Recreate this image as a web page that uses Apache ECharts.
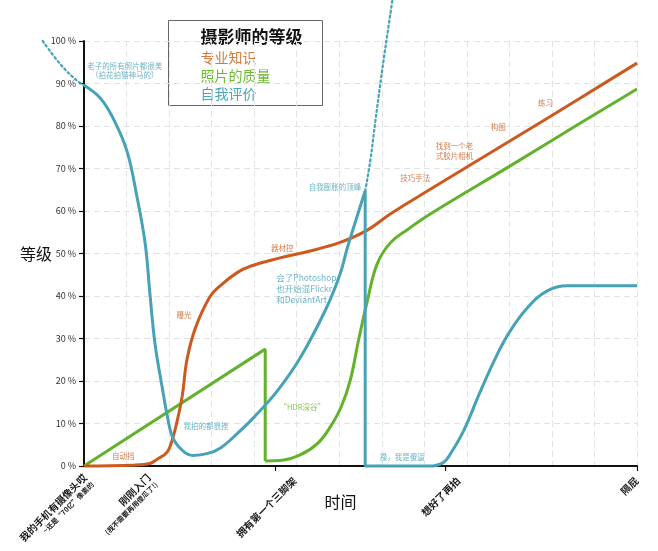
<!DOCTYPE html>
<html><head><meta charset="utf-8">
<script src="https://cdn.jsdelivr.net/npm/echarts@6/dist/echarts.min.js"></script>
<style>html,body{margin:0;padding:0;background:#fff}#c{width:658px;height:551px}</style>
</head><body><div id="c"></div>
<script>
const FONT = '"Noto Sans CJK SC","Noto Sans",sans-serif';
const C_SKILL = '#cc5a1e', C_QUAL = '#62b22b', C_SELF = '#45a2b7';

// x axis labels (time stages) and where they sit on the 0..13 time scale
const xLabels = [
  ['我的手机有摄像头哎', '~还是“70亿”像素的'],
  ['刚刚入门', '(我不需要再用傻瓜了!)'],
  ['拥有第一个三脚架', ''],
  ['想好了再拍', ''],
  ['隔屁', '']
];
const xLabelPos = [0.1, 1.6, 4.95, 8.8, 12.99];
const xTickPos = [4.5, 8.5, 13];
const yTicks = [0, 10, 20, 30, 40, 50, 60, 70, 80, 90, 100];

// 专业知识
const skill = [[0,0],[1.15,0.2],[1.55,0.6],[1.72,1.6],[1.95,3.2],[2.07,6],[2.19,10.6],[2.31,16.5],[2.42,25],[2.62,32.5],[2.96,39.8],[3.2,42.4],[3.6,45.5],[3.91,47],[4.54,48.8],[5.32,50.6],[6.02,52.6],[6.66,55.5],[7.2,59.3],[8.14,65.1],[10,76.4],[11.67,86.6],[13,94.8]];
// 照片的质量
const qualityA = [[0,0],[4.26,27.5],[4.26,1.2]];
const qualityB = [[4.26,1.2],[4.61,1.3],[5.08,2.6],[5.5,5.4],[5.79,9.2],[6.05,14],[6.26,20.2],[6.45,29.4],[6.66,38.8],[6.89,47.5],[7.2,52.5],[7.6,55.6],[8.14,59.3],[10,70.5],[11.67,80.7],[13,88.7]];
// 自我评价
const selfDotA = [[-0.97,100],[-0.56,94.6],[-0.16,90.6],[0,89.6]];
const selfA = [[0,89.6],[0.38,86.6],[0.68,81.9],[1.01,74.1],[1.25,63.1],[1.44,52.2],[1.55,40.5],[1.67,28.7],[1.84,18.4],[1.95,12.2],[2.09,6.6],[2.33,3.5],[2.56,2.5],[2.89,2.9],[3.2,4.2],[3.6,7.6],[4.0,11.5],[4.54,17.6],[5.08,25.4],[5.69,37],[6.02,45.2],[6.19,51.3],[6.61,64.7]];
const selfB = [[6.61,64.7],[6.61,0],[8.21,0]];
const selfC = [[8.21,0],[8.45,0.8],[8.61,2.8],[8.92,8.2],[9.32,17.6],[9.72,26.4],[10.02,31.8],[10.42,37.2],[10.89,41.2],[11.36,42.4],[13,42.4]];
const selfDotB = [[6.61,64.7],[6.73,71.8],[6.85,81.2],[7.04,95.3],[7.25,109.6]];

// annotations: [x, y, text, series]
const notes = [
  [0.96, 93, '老子的所有照片都很美\n（拍花拍猫神马的）', 'self'],
  [0.92, 2.4, '自动挡', 'skill'],
  [2.35, 35.5, '曝光', 'skill'],
  [4.66, 51.3, '器材控', 'skill'],
  [2.87, 9.4, '我拍的都很挫', 'self'],
  [4.52, 41.6, '会了Photoshop\n也开始混Flickr\n和DeviantArt', 'self'],
  [5.13, 13.9, '“HDR深谷”', 'quality'],
  [5.9, 65.6, '自我膨胀的顶峰', 'self'],
  [7.79, 67.8, '技巧手法', 'skill'],
  [8.71, 74.1, '找到一个老\n式胶片相机', 'skill'],
  [9.74, 79.8, '构图', 'skill'],
  [10.85, 85.4, '练习', 'skill'],
  [7.48, 2.1, '操，我是傻逼', 'self']
];
const noteColor = {skill: C_SKILL, quality: C_QUAL, self: C_SELF};

const chart = echarts.init(document.getElementById('c'));
function lineSeries(data, color, smooth, dotted, xi, yi) {
  return {
    type: 'line', data: data, smooth: smooth, symbol: 'none', clip: false,
    xAxisIndex: xi || 0, yAxisIndex: yi || 0, silent: true, z: 5,
    lineStyle: {color: color, width: dotted ? 2.2 : 3, type: dotted ? [2, 3] : 'solid', cap: dotted ? 'round' : 'butt'}
  };
}
const series = [
  lineSeries(qualityA, C_QUAL, false, false),
  lineSeries(qualityB, C_QUAL, 0.4, false),
  lineSeries(skill, C_SKILL, 0.4, false),
  lineSeries(selfDotA, C_SELF, 0.4, true, 2, 1),
  lineSeries(selfA, C_SELF, 0.4, false),
  lineSeries(selfB, C_SELF, false, false),
  lineSeries(selfC, C_SELF, 0.4, false),
  lineSeries(selfDotB, C_SELF, 0.4, true),
  {
    type: 'scatter', symbolSize: 0, silent: true, clip: false, z: 10,
    xAxisIndex: 0, yAxisIndex: 0,
    data: notes.map(n => ({
      value: [n[0], n[1]],
      label: {show: true, position: 'inside', formatter: n[2], color: noteColor[n[3]],
              fontSize: n[2].indexOf('Photoshop') >= 0 ? 8.5 : 7.5,
              align: n[2].indexOf('Photoshop') >= 0 ? 'left' : 'center',
              lineHeight: n[2].indexOf('Photoshop') >= 0 ? 11 : 9.5, fontFamily: FONT}
    }))
  }
];

function findLabel(v) {
  for (let i = 0; i < xLabelPos.length; i++) if (Math.abs(xLabelPos[i] - v) < 1e-6) return i;
  return -1;
}
const UNIT = (658 - 84 - 21) / 13;

chart.setOption({
  animation: false,
  backgroundColor: '#fff',
  grid: [
    {left: 84, right: 21, top: 41, bottom: 85, containLabel: false, outerBoundsMode: 'none'},
    {left: 84 - UNIT, right: 21, top: 41, bottom: 85, containLabel: false, outerBoundsMode: 'none'}
  ],
  xAxis: [
    {type: 'value', min: 0, max: 13, interval: 1, position: 'bottom', gridIndex: 0,
     axisLine: {show: false}, axisTick: {show: false}, axisLabel: {show: false},
     splitLine: {show: true, lineStyle: {color: '#e2e2e2', type: [6, 4], width: 1}}},
    {type: 'value', min: 0, max: 13, position: 'bottom', gridIndex: 0,
     axisLine: {show: true, onZero: false, lineStyle: {color: '#111', width: 2}},
     axisTick: {show: true, customValues: xTickPos, length: 5, lineStyle: {color: '#111', width: 1.2}},
     splitLine: {show: false},
     axisLabel: {
       customValues: xLabelPos, rotate: 45, margin: 13, color: '#111', hideOverlap: false,
       formatter: function (v) {
         const i = findLabel(v);
         if (i < 0) return '';
         const l = xLabels[i];
         return l[1] ? '{a|' + l[0] + '}\n{b|' + l[1] + '}' : '{a|' + l[0] + '}';
       },
       rich: {
         a: {fontSize: 10, fontWeight: 'bold', color: '#1a1a1a', fontFamily: FONT, lineHeight: 12},
         b: {fontSize: 7, fontWeight: 'bold', color: '#1a1a1a', fontFamily: FONT, lineHeight: 9}
       }
     },
     name: '时间', nameLocation: 'middle', nameGap: 28, nameMoveOverlap: false,
     nameTextStyle: {fontSize: 16, color: '#111', fontFamily: FONT, padding: [0, 40, 0, 0]}},
    {type: 'value', min: -1, max: 13, gridIndex: 1, show: false}
  ],
  yAxis: [{
    type: 'value', min: 0, max: 100, interval: 10, gridIndex: 0,
    axisLine: {show: true, onZero: false, lineStyle: {color: '#111', width: 2}},
    axisTick: {show: true, length: 5, lineStyle: {color: '#111', width: 1.2}},
    axisLabel: {formatter: '{value} %', fontSize: 9, color: '#333', margin: 8, fontFamily: FONT},
    splitLine: {show: true, lineStyle: {color: '#e2e2e2', type: [6, 4], width: 1}},
    name: '等级', nameLocation: 'middle', nameRotate: 0, nameGap: 32, nameMoveOverlap: false,
    nameTextStyle: {fontSize: 16, color: '#111', fontFamily: FONT}
  }, {
    type: 'value', min: 0, max: 100, gridIndex: 1, show: false
  }],
  graphic: [{
    type: 'group', left: 168, top: 20, z: 100,
    children: [
      {type: 'rect', shape: {x: 0, y: 0, width: 154, height: 85}, style: {fill: '#fff', stroke: '#666', lineWidth: 1}},
      {type: 'text', x: 32, y: 16, style: {text: '摄影师的等级', font: 'bold 17px ' + FONT, fill: '#111', verticalAlign: 'middle'}},
      {type: 'text', x: 32, y: 37, style: {text: '专业知识', font: '14px ' + FONT, fill: '#d27a3c', verticalAlign: 'middle'}},
      {type: 'text', x: 32, y: 55, style: {text: '照片的质量', font: '14px ' + FONT, fill: '#6cbb2e', verticalAlign: 'middle'}},
      {type: 'text', x: 32, y: 73, style: {text: '自我评价', font: '14px ' + FONT, fill: '#4aa5bd', verticalAlign: 'middle'}}
    ]
  }],
  series: series
});
</script>
</body></html>
